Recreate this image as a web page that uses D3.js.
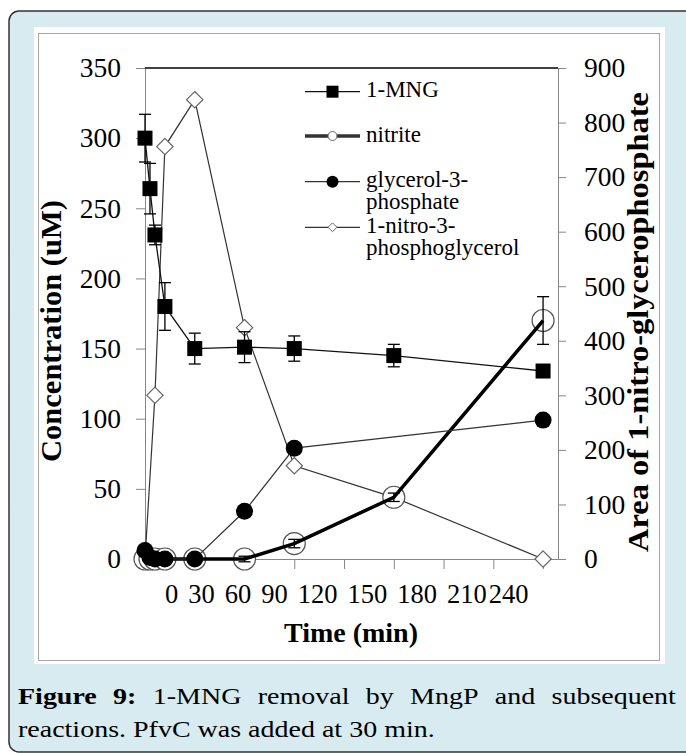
<!DOCTYPE html>
<html>
<head>
<meta charset="utf-8">
<script src="https://cdn.jsdelivr.net/npm/d3@7"></script>
<style>
  body { margin: 0; padding: 0; background: #fff; }
  svg text { font-family: "Liberation Serif", "Times New Roman", serif; fill: #000; }
</style>
</head>
<body>
<div id="chart"></div>
<script>

// data
var times = [0, 3, 6, 12, 30, 60, 90, 150, 240];
var mng = [300, 264, 231, 180, 150, 151, 150, 145, 134];
var mngErr = [17, 18, 7, 17, 11, 11, 9, 8, 0];

var nitriteTimes = [0, 3, 6, 12, 30, 60, 90, 150, 240];
var nitrite = [0, 0, 0, 0, 0, 0, 11, 44, 170];
var nitriteErr = [0, 0, 0, 0, 0, 2, 3, 3, 17];

var g3pTimes = [0, 3, 6, 12, 30, 60, 90, 240];
var g3p = [6, 1, 0, 0, 0, 34, 79, 99];

var nitroTimes = [0, 6, 12, 30, 60, 90, 150, 240];
var nitro = [0, 300, 756, 842, 424, 171, 113, 0];

var xTickLabels = ["0", "30", "60", "90", "120", "150", "180", "210", "240"];
var leftTicks = [0, 50, 100, 150, 200, 250, 300, 350];
var rightTicks = [0, 100, 200, 300, 400, 500, 600, 700, 800, 900];

var legendNames = [["1-MNG"], ["nitrite"], ["glycerol-3-", "phosphate"], ["1-nitro-3-", "phosphoglycerol"]];

var captionBold = ["Figure", "9:"];
var captionWords = ["1-MNG", "removal", "by", "MngP", "and", "subsequent"];
var captionLine2 = "reactions. PfvC was added at 30 min.";

var W = 686, H = 753;
var plot = { left: 145, right: 558, top: 68, bottom: 559 };
var serif = "Liberation Serif";

var svg = d3.select("#chart").append("svg")
    .attr("width", W)
    .attr("height", H);

// frame and panel
svg.append("rect")
    .attr("x", 9).attr("y", 11)
    .attr("width", W + 20).attr("height", 741)
    .attr("rx", 10)
    .attr("fill", "#d7ebf0")
    .attr("stroke", "#333")
    .attr("stroke-width", 1.5);

svg.append("rect")
    .attr("x", 34).attr("y", 27)
    .attr("width", 631).attr("height", 637)
    .attr("fill", "#fff");

svg.append("rect")
    .attr("x", 38.5).attr("y", 33.5)
    .attr("width", 621).attr("height", 627)
    .attr("fill", "none")
    .attr("stroke", "#a6a6a6");

var x = d3.scaleLinear().domain([0, 249]).range([plot.left, plot.right]);
var yL = d3.scaleLinear().domain([0, 350]).range([plot.bottom, plot.top]);
var yR = d3.scaleLinear().domain([0, 900]).range([plot.bottom, plot.top]);

function styleAxis(g, size) {
  g.selectAll("path, line").attr("stroke", "#868686");
  g.selectAll("text")
    .attr("font-family", serif)
    .attr("font-size", size)
    .attr("fill", "#000");
}

svg.append("g")
    .attr("transform", "translate(" + plot.left + ",0)")
    .call(d3.axisLeft(yL).tickValues(leftTicks).tickSize(9).tickSizeOuter(0).tickPadding(15))
    .call(styleAxis, 27.5);

svg.append("g")
    .attr("transform", "translate(" + plot.right + ",0)")
    .call(d3.axisRight(yR).tickValues(rightTicks).tickSize(8).tickSizeOuter(0).tickPadding(18))
    .call(styleAxis, 27.5);

svg.append("g")
    .attr("transform", "translate(0," + plot.bottom + ")")
    .call(d3.axisBottom(x).tickValues(xTickLabels.map(Number)).tickSize(10).tickSizeOuter(0).tickFormat(""))
    .call(styleAxis, 27);

// top border of the plot area
svg.append("line")
    .attr("x1", plot.left).attr("x2", plot.right)
    .attr("y1", plot.top).attr("y2", plot.top)
    .attr("stroke", "#000").attr("stroke-width", 1.5);

// x tick labels are run together under the axis, as in the original
var xl = svg.append("text")
    .attr("x", 165).attr("y", 603)
    .attr("font-family", serif)
    .attr("font-size", 26.5);
xl.selectAll("tspan")
    .data(xTickLabels)
  .enter().append("tspan")
    .attr("dx", function(d, i) { return i == 0 ? 0 : (i == xTickLabels.length - 1 ? 2 : 10); })
    .text(function(d) { return d; });

// axis titles
svg.append("text")
    .attr("x", 351).attr("y", 642)
    .attr("text-anchor", "middle")
    .attr("font-family", serif)
    .attr("font-weight", "bold")
    .attr("font-size", 28)
    .text("Time (min)");

svg.append("text")
    .attr("transform", "translate(61,331) rotate(-90)")
    .attr("text-anchor", "middle")
    .attr("font-family", serif)
    .attr("font-weight", "bold")
    .attr("font-size", 29)
    .attr("textLength", 262)
    .attr("lengthAdjust", "spacingAndGlyphs")
    .text("Concentration (uM)");

svg.append("text")
    .attr("transform", "translate(648,322) rotate(-90)")
    .attr("text-anchor", "middle")
    .attr("font-family", serif)
    .attr("font-weight", "bold")
    .attr("font-size", 30)
    .attr("textLength", 460)
    .attr("lengthAdjust", "spacingAndGlyphs")
    .text("Area of 1-nitro-glycerophosphate");

// build point arrays
var mngData = times.map(function(t, i) { return { t: t, v: mng[i], e: mngErr[i] }; });
var nitriteData = nitriteTimes.map(function(t, i) { return { t: t, v: nitrite[i], e: nitriteErr[i] }; });
var g3pData = g3pTimes.map(function(t, i) { return { t: t, v: g3p[i] }; });
var nitroData = nitroTimes.map(function(t, i) { return { t: t, v: nitro[i] }; });

var lineL = d3.line().x(function(d) { return x(d.t); }).y(function(d) { return yL(d.v); });
var lineR = d3.line().x(function(d) { return x(d.t); }).y(function(d) { return yR(d.v); });

var diamond = d3.symbol().type(d3.symbolDiamond2).size(170);

// 1-nitro-3-phosphoglycerol (right axis)
svg.append("path")
    .datum(nitroData)
    .attr("d", lineR)
    .attr("fill", "none")
    .attr("stroke", "#333")
    .attr("stroke-width", 1.2);

svg.selectAll(".nitro")
    .data(nitroData)
  .enter().append("path")
    .attr("class", "nitro")
    .attr("transform", function(d) { return "translate(" + x(d.t) + "," + yR(d.v) + ")"; })
    .attr("d", diamond)
    .attr("fill", "#fff")
    .attr("stroke", "#666")
    .attr("stroke-width", 1.2);

// 1-MNG
svg.append("path")
    .datum(mngData)
    .attr("d", lineL)
    .attr("fill", "none")
    .attr("stroke", "#111")
    .attr("stroke-width", 1.3);

function errorBars(cls, data, color) {
  var g = svg.selectAll("." + cls)
      .data(data.filter(function(d) { return d.e > 0; }))
    .enter().append("g")
      .attr("class", cls)
      .attr("stroke", color)
      .attr("stroke-width", 1.3);
  g.append("line")
      .attr("x1", function(d) { return x(d.t); })
      .attr("x2", function(d) { return x(d.t); })
      .attr("y1", function(d) { return yL(d.v + d.e); })
      .attr("y2", function(d) { return yL(d.v - d.e); });
  [1, -1].forEach(function(s) {
    g.append("line")
        .attr("x1", function(d) { return x(d.t) - 6; })
        .attr("x2", function(d) { return x(d.t) + 6; })
        .attr("y1", function(d) { return yL(d.v + s * d.e); })
        .attr("y2", function(d) { return yL(d.v + s * d.e); });
  });
}

errorBars("mngerr", mngData, "#000");

svg.selectAll(".mng")
    .data(mngData)
  .enter().append("rect")
    .attr("class", "mng")
    .attr("x", function(d) { return x(d.t) - 7.5; })
    .attr("y", function(d) { return yL(d.v) - 7.5; })
    .attr("width", 15)
    .attr("height", 15)
    .attr("fill", "#000");

// nitrite
svg.selectAll(".nitrite")
    .data(nitriteData)
  .enter().append("circle")
    .attr("class", "nitrite")
    .attr("cx", function(d) { return x(d.t); })
    .attr("cy", function(d) { return yL(d.v); })
    .attr("r", 11)
    .attr("fill", "#fff")
    .attr("stroke", "#555")
    .attr("stroke-width", 1.2);

svg.append("path")
    .datum(nitriteData)
    .attr("d", lineL)
    .attr("fill", "none")
    .attr("stroke", "#000")
    .attr("stroke-width", 3.5);

// glycerol-3-phosphate
svg.append("path")
    .datum(g3pData)
    .attr("d", lineL)
    .attr("fill", "none")
    .attr("stroke", "#333")
    .attr("stroke-width", 1.2);

svg.selectAll(".g3p")
    .data(g3pData)
  .enter().append("circle")
    .attr("class", "g3p")
    .attr("cx", function(d) { return x(d.t); })
    .attr("cy", function(d) { return yL(d.v); })
    .attr("r", 8.5)
    .attr("fill", "#000");

errorBars("niterr", nitriteData, "#000");

// legend
var legendY = [91.7, 136, 181.7, 227.3];
var lg = svg.selectAll(".legend")
    .data(legendNames)
  .enter().append("g")
    .attr("class", "legend")
    .attr("transform", function(d, i) { return "translate(305," + legendY[i] + ")"; });

lg.append("line")
    .attr("x1", 0).attr("x2", 55)
    .attr("stroke", function(d, i) { return i == 0 ? "#111" : "#333"; })
    .attr("stroke-width", function(d, i) { return i == 1 ? 3.5 : 1.2; });

lg.each(function(d, i) {
  var g = d3.select(this);
  if (i == 0) {
    g.append("rect").attr("x", 21.5).attr("y", -6).attr("width", 12).attr("height", 12).attr("fill", "#000");
  } else if (i == 1) {
    g.append("circle").attr("cx", 27.5).attr("r", 4.5).attr("fill", "#fff").attr("stroke", "#666");
  } else if (i == 2) {
    g.append("circle").attr("cx", 27.5).attr("r", 6).attr("fill", "#000");
  } else {
    g.append("path").attr("transform", "translate(27.5,0)")
      .attr("d", d3.symbol().type(d3.symbolDiamond2).size(50))
      .attr("fill", "#fff").attr("stroke", "#666");
  }
  var t = g.append("text")
      .attr("x", 61)
      .attr("y", 5.5)
      .attr("font-family", serif)
      .attr("font-size", 23);
  d.forEach(function(s, k) {
    t.append("tspan").attr("x", 61).attr("dy", k == 0 ? 0 : 22).text(s);
  });
});

// caption
var capFont = "DejaVu Serif";
var capSize = 23;
var line2 = svg.append("text")
    .attr("font-family", capFont)
    .attr("font-size", capSize)
    .attr("fill", "#1a1a1a")
    .text(captionLine2);
var sx = 417 / line2.node().getComputedTextLength();
line2.attr("transform", "translate(18,737) scale(" + sx + ",1)");

var words = captionBold.map(function(w) { return { w: w, b: true }; })
    .concat(captionWords.map(function(w) { return { w: w, b: false }; }));
var nodes = words.map(function(d) {
  var t = svg.append("text")
      .attr("font-family", capFont)
      .attr("font-size", capSize)
      .attr("font-weight", d.b ? "bold" : "normal")
      .attr("fill", "#1a1a1a")
      .text(d.w);
  return { t: t, len: t.node().getComputedTextLength() * sx };
});
var total = d3.sum(nodes, function(n) { return n.len; });
var gap = (676 - 18 - total) / (nodes.length - 1);
var cx = 18;
nodes.forEach(function(n) {
  n.t.attr("transform", "translate(" + cx + ",704) scale(" + sx + ",1)");
  cx += n.len + gap;
});

</script>
</body>
</html>
